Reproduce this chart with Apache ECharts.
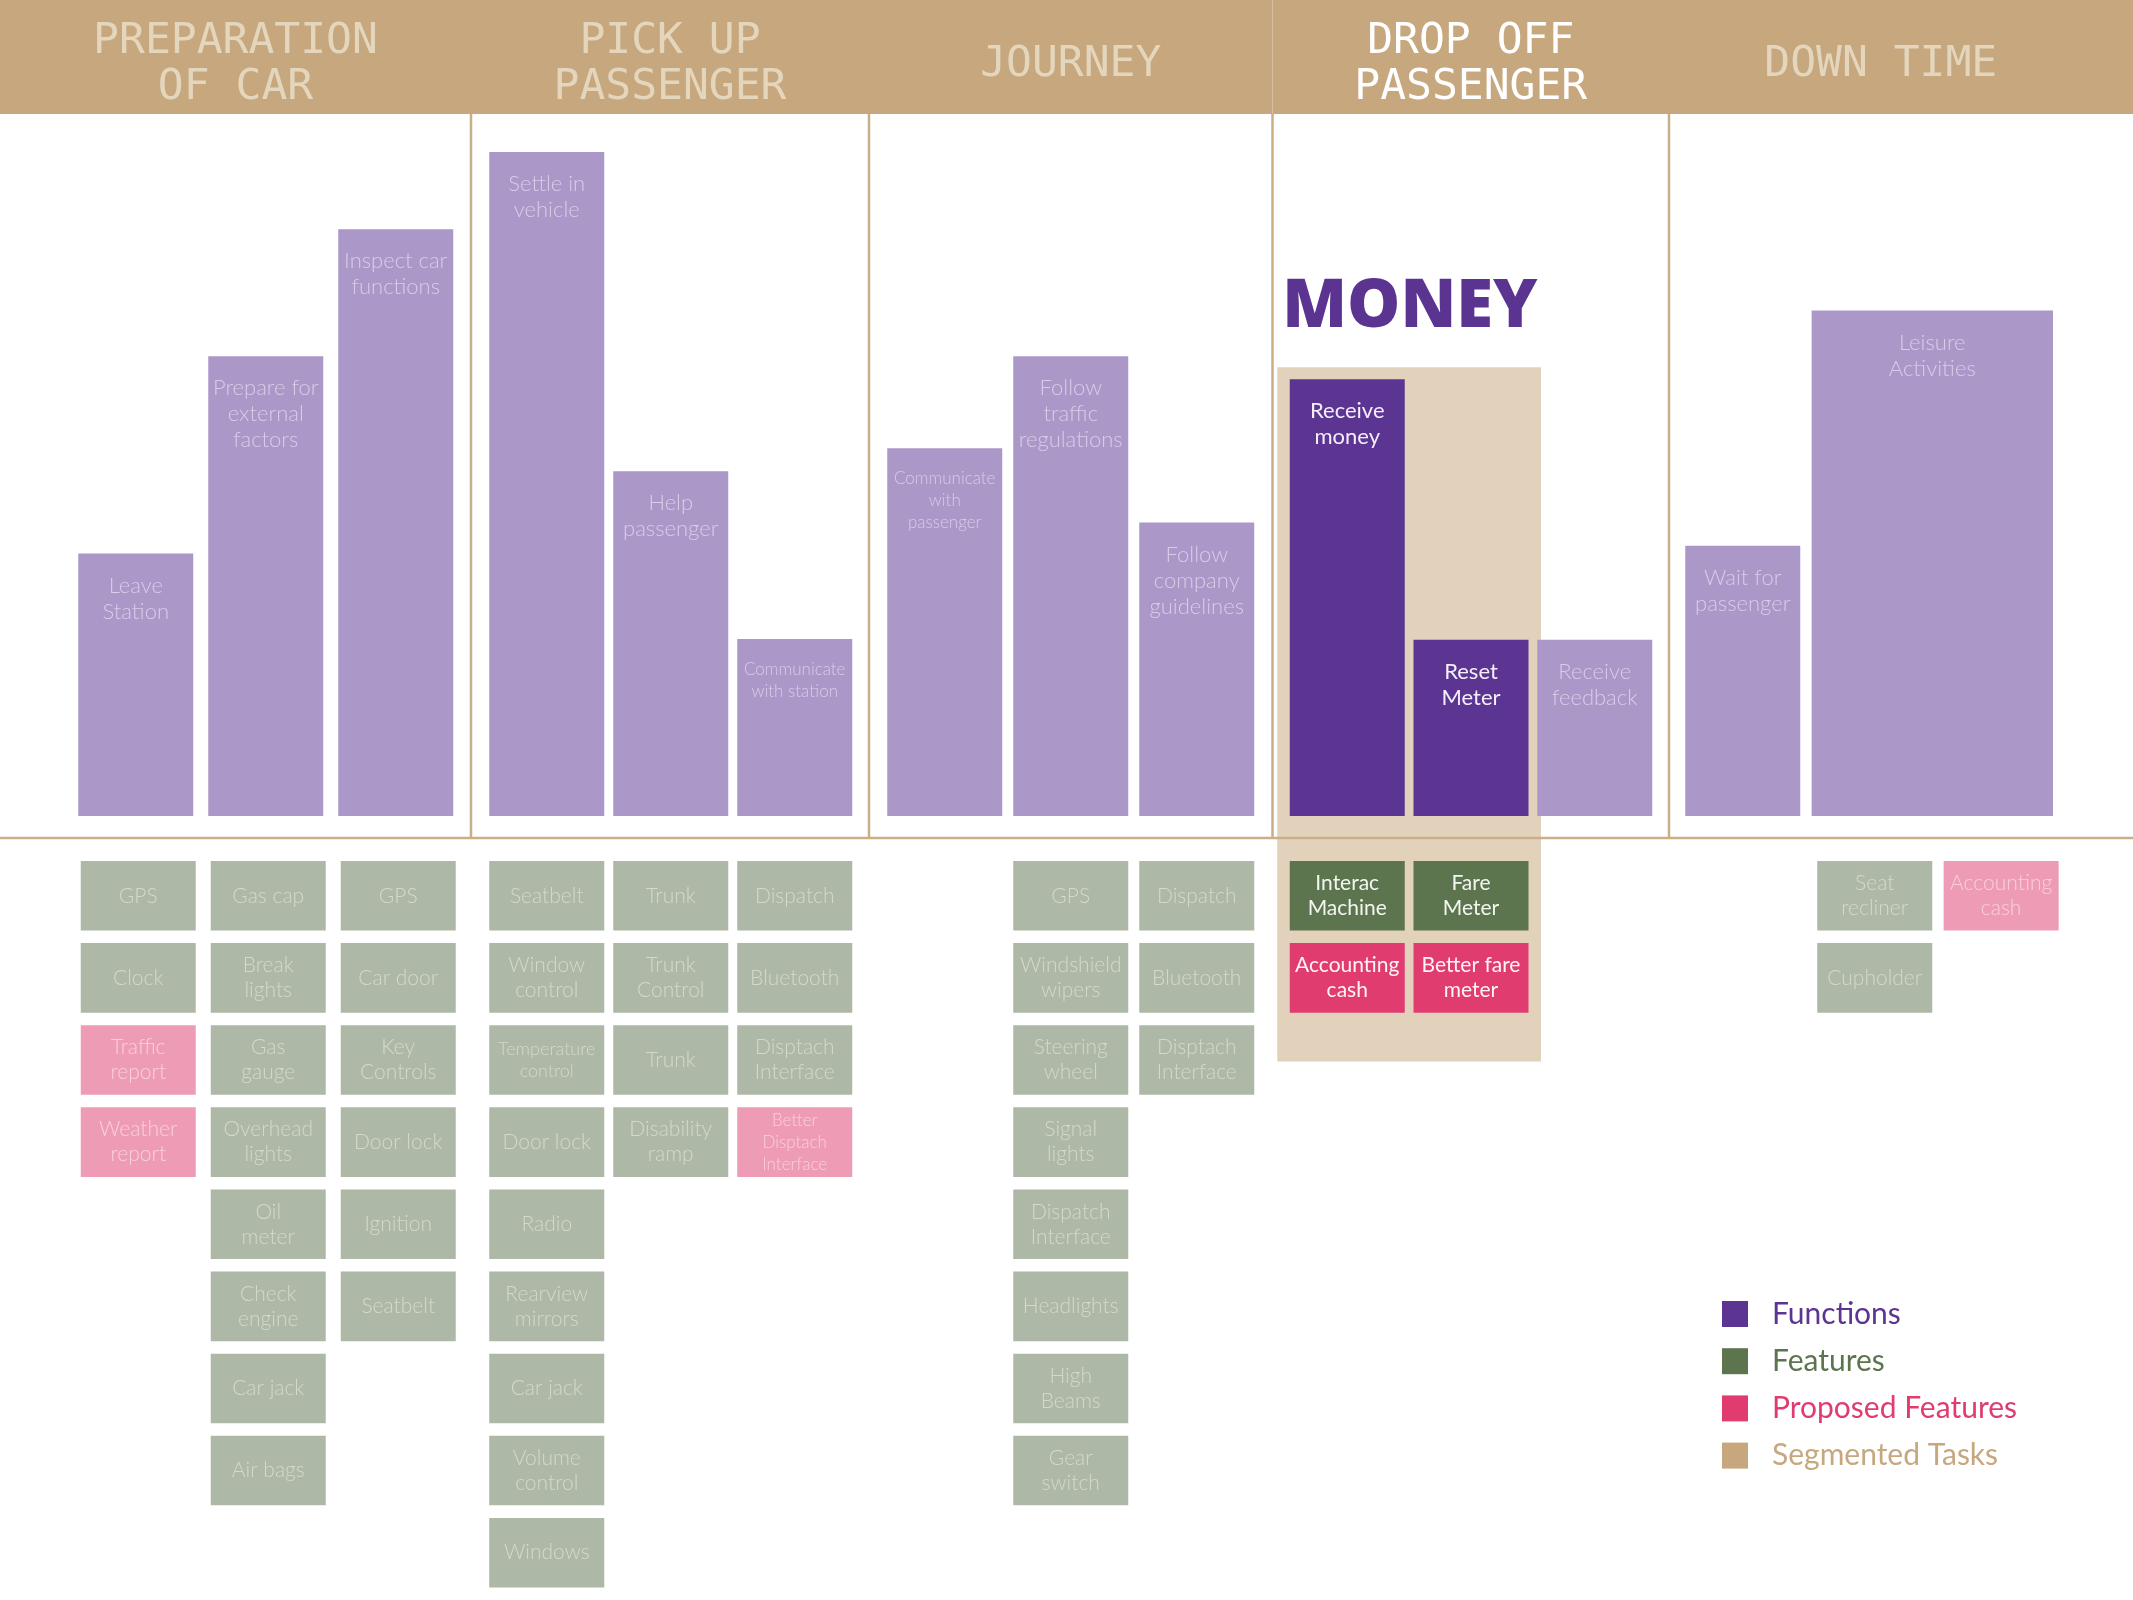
<!DOCTYPE html>
<html><head><meta charset="utf-8">
<script src="https://cdn.jsdelivr.net/npm/echarts@6/dist/echarts.min.js"></script>
<style>html,body{margin:0;padding:0;background:#fff}#c{width:2133px;height:1600px}</style>
</head><body><div id="c"></div>
<script>
// ================= DATA =================
const stageNames = ['PREPARATION\nOF CAR', 'PICK UP\nPASSENGER', 'JOURNEY', 'DROP OFF\nPASSENGER', 'DOWN TIME'];

const taskNames = ['Leave\nStation', 'Prepare for\nexternal\nfactors', 'Inspect car\nfunctions',
  'Settle in\nvehicle', 'Help\npassenger', 'Communicate\nwith station',
  'Communicate\nwith\npassenger', 'Follow\ntraffic\nregulations', 'Follow\ncompany\nguidelines',
  'Receive\nmoney', 'Reset\nMeter', 'Receive\nfeedback',
  'Wait for\npassenger', 'Leisure\nActivities'];
const taskStage  = [0, 0, 0, 1, 1, 1, 2, 2, 2, 3, 3, 3, 4, 4];
const taskSlot   = [0, 1, 2, 0, 1, 2, 0, 1, 2, 0, 1, 2, 0, 1];
const taskValues = [37.4, 65.5, 83.6, 94.6, 49.1, 25.2, 52.4, 65.5, 41.8, 62.2, 25.1, 25.1, 38.5, 72.0];

const featureColStage = [0, 0, 0, 1, 1, 1, 2, 2, 3, 3, 4, 4];
const featureColSlot  = [0, 1, 2, 0, 1, 2, 1, 2, 0, 1, 1, 2];
const featureLists = [
  ['GPS', 'Clock', 'Traffic\nreport', 'Weather\nreport'],
  ['Gas cap', 'Break\nlights', 'Gas\ngauge', 'Overhead\nlights', 'Oil\nmeter', 'Check\nengine', 'Car jack', 'Air bags'],
  ['GPS', 'Car door', 'Key\nControls', 'Door lock', 'Ignition', 'Seatbelt'],
  ['Seatbelt', 'Window\ncontrol', 'Temperature\ncontrol', 'Door lock', 'Radio', 'Rearview\nmirrors', 'Car jack', 'Volume\ncontrol', 'Windows'],
  ['Trunk', 'Trunk\nControl', 'Trunk', 'Disability\nramp'],
  ['Dispatch', 'Bluetooth', 'Disptach\nInterface', 'Better\nDisptach\nInterface'],
  ['GPS', 'Windshield\nwipers', 'Steering\nwheel', 'Signal\nlights', 'Dispatch\nInterface', 'Headlights', 'High\nBeams', 'Gear\nswitch'],
  ['Dispatch', 'Bluetooth', 'Disptach\nInterface'],
  ['Interac\nMachine', 'Accounting\ncash'],
  ['Fare\nMeter', 'Better fare\nmeter'],
  ['Seat\nrecliner', 'Cupholder'],
  ['Accounting\ncash']
];
// e = existing feature, p = proposed feature
const featureKinds = ['eepp', 'eeeeeeee', 'eeeeee', 'eeeeeeeee', 'eeee', 'eeep', 'eeeeeeee', 'eee', 'ep', 'ep', 'ee', 'p'];

const segmentStage = 3;
const segmentSlots = [0, 1];
const segmentTitle = 'MONEY';

const legendNames = ['Functions', 'Features', 'Proposed Features', 'Segmented Tasks'];

// ================= LAYOUT / STYLE =================
const W = 2133, H = 1600, UNIT = 125;            // px per slot unit
const L = { headerH: 114, barsH: 702, baseGap: 22, featTop: 861, rowPitch: 82.6, boxH: 70,
  markW: 0.92, yMax: 100, rows: 9 };
const stageEdgeX = [0, 3.768, 6.952, 10.18, 13.352, 16.74];
const slotStartX = [0.626, 3.914, 7.098, 10.318, 13.482];
const slotPitch  = [1.04, 0.992, 1.008, 0.99, 1.011];
const featShift  = [0.02, 0, 0, 0, 0.045];
const taskSpan   = [1, 1, 1, 1, 1, 1, 1, 1, 1, 1, 1, 1, 1, 2];
const C = {
  header: '#c7a77e', headerText: '#e4d6bd', headerActive: '#ffffff', rule: '#cbae86',
  task: '#ab98c9', taskText: '#d8cce8', fn: '#5c3492', fnText: '#f4effa',
  feat: '#aeb8a6', featText: '#d3d9cc', featHi: '#5c754f', featHiText: '#f3f6f0',
  prop: '#ee9cb6', propText: '#f8d0dd', propHi: '#e03c6f', propHiText: '#fff3f6',
  seg: '#e2d2bc', money: '#5b3391'
};
const BODY = "Lato, 'Open Sans', sans-serif";
const HEAD = "'DejaVu Sans Mono', monospace";

const measureCtx = document.createElement('canvas').getContext('2d');
function textW(lines, font) { measureCtx.font = font; return Math.max(...lines.map(s => measureCtx.measureText(s).width)); }

function slotX(st, sl) { return slotStartX[st] + sl * slotPitch[st]; }
function inSegment(st, sl) { return st === segmentStage && segmentSlots.includes(sl); }

// ---------- bars ----------
const barsLo = [], barsHi = [];
taskNames.forEach((n, i) => {
  const x0 = slotX(taskStage[i], taskSlot[i]);
  const x1 = x0 + L.markW + (taskSpan[i] - 1) * slotPitch[taskStage[i]];
  (inSegment(taskStage[i], taskSlot[i]) ? barsHi : barsLo).push([x0, taskValues[i], x1, i]);
});
function renderBar(fill, textFill, weight) {
  return function (params, api) {
    const x0 = api.value(0), v = api.value(1), x1 = api.value(2), i = api.value(3);
    const p0 = api.coord([x0, v]), p1 = api.coord([x1, 0]);
    const lines = taskNames[i].split('\n');
    let fs = 22, lh = 26;
    if (textW(lines, weight + ' 22px ' + BODY) > (p1[0] - p0[0]) + 2) { fs = 17; lh = 22; }
    return { type: 'group', children: [
      { type: 'rect', shape: { x: p0[0], y: p0[1], width: p1[0] - p0[0], height: p1[1] - p0[1] }, style: { fill } },
      { type: 'text', style: { text: taskNames[i], x: (p0[0] + p1[0]) / 2, y: p0[1] + 19, align: 'center', verticalAlign: 'top',
        fill: textFill, font: weight + ' ' + fs + 'px ' + BODY, lineHeight: lh } }
    ] };
  };
}

// ---------- features ----------
const fCur = [], fHi = [], pLo = [], pHi = [];
featureLists.forEach((list, c) => {
  const st = featureColStage[c], sl = featureColSlot[c];
  const x0 = slotX(st, sl) + featShift[st], hi = inSegment(st, sl);
  list.forEach((n, r) => {
    const k = featureKinds[c][r];
    const item = [x0, r, x0 + L.markW, c];
    if (k === 'p') (hi ? pHi : pLo).push(item); else (hi ? fHi : fCur).push(item);
  });
});
function renderFeature(fill, textFill, weight) {
  return function (params, api) {
    const x0 = api.value(0), r = api.value(1), x1 = api.value(2), c = api.value(3);
    const p0 = api.coord([x0, r]), p1 = api.coord([x1, r + L.boxH / L.rowPitch]);
    const name = featureLists[c][r];
    const lines = name.split('\n');
    let fs = 21, lh = 25;
    if (lines.length >= 3) { fs = 17; lh = 22; }
    else if (textW(lines, weight + ' 21px ' + BODY) > (p1[0] - p0[0]) - 3) { fs = 18; lh = 22; }
    return { type: 'group', children: [
      { type: 'rect', shape: { x: p0[0], y: p0[1], width: p1[0] - p0[0], height: p1[1] - p0[1] }, style: { fill } },
      { type: 'text', style: { text: name, x: (p0[0] + p1[0]) / 2, y: (p0[1] + p1[1]) / 2, align: 'center', verticalAlign: 'middle',
        fill: textFill, font: weight + ' ' + fs + 'px ' + BODY, lineHeight: lh } }
    ] };
  };
}

// ---------- stages (header band, dividers, baseline) ----------
function renderStage(params, api) {
  const i = api.value(0), cs = params.coordSys;
  const x0 = api.coord([stageEdgeX[i], 0])[0];
  const xe = api.coord([stageEdgeX[i + 1], 0])[0];
  const x1 = i === stageNames.length - 1 ? cs.x + cs.width : xe;
  const baseY = cs.y + cs.height + L.baseGap;
  const ch = [
    { type: 'rect', shape: { x: x0, y: 0, width: x1 - x0, height: cs.y }, style: { fill: C.header } },
    { type: 'text', style: { text: stageNames[i], x: (x0 + xe) / 2, y: cs.y / 2 + 8, align: 'center', verticalAlign: 'middle',
      fill: i === segmentStage ? C.headerActive : C.headerText, font: '43px ' + HEAD, lineHeight: 46 } }
  ];
  if (i > 0) ch.push({ type: 'line', shape: { x1: x0, y1: cs.y, x2: x0, y2: baseY }, style: { stroke: C.rule, lineWidth: 2.5 } });
  if (i === 0) ch.push({ type: 'line', shape: { x1: cs.x, y1: baseY, x2: cs.x + cs.width, y2: baseY }, style: { stroke: C.rule, lineWidth: 2.5 } });
  return { type: 'group', children: ch };
}

// ---------- segment highlight ----------
function renderSegment(params, api) {
  const st = api.value(0);
  const first = segmentSlots[0], last = segmentSlots[segmentSlots.length - 1];
  let vMax = 0, nRows = 0;
  taskNames.forEach((n, i) => { if (inSegment(taskStage[i], taskSlot[i])) vMax = Math.max(vMax, taskValues[i]); });
  featureLists.forEach((l, c) => { if (inSegment(featureColStage[c], featureColSlot[c])) nRows = Math.max(nRows, l.length); });
  const left = api.coord([slotX(st, first) - 0.1, 0])[0];
  const right = api.coord([slotX(st, last) + L.markW + 0.1, 0])[0];
  const top = api.coord([0, vMax])[1] - 12;
  const bottom = L.featTop + (nRows - 1) * L.rowPitch + L.boxH + 48;
  return { type: 'group', children: [
    { type: 'rect', shape: { x: left, y: top, width: right - left, height: bottom - top }, style: { fill: C.seg } },
    { type: 'text', style: { text: segmentTitle, x: left + 5, y: top - 59, align: 'left', verticalAlign: 'middle',
      fill: C.money, font: "800 67px 'Open Sans', sans-serif" } }
  ] };
}

const chart = echarts.init(document.getElementById('c'), null, { renderer: 'canvas', width: W, height: H });
const xAxisCfg = (g) => ({ type: 'value', gridIndex: g, min: 0, max: W / UNIT, show: false });
chart.setOption({
  backgroundColor: '#ffffff',
  animation: false,
  grid: [
    { left: 0, right: 0, top: L.headerH, height: L.barsH },
    { left: 0, right: 0, top: L.featTop, height: L.rows * L.rowPitch }
  ],
  xAxis: [xAxisCfg(0), xAxisCfg(1)],
  yAxis: [
    { type: 'value', gridIndex: 0, min: 0, max: L.yMax, show: false },
    { type: 'value', gridIndex: 1, min: 0, max: L.rows, inverse: true, show: false }
  ],
  legend: {
    orient: 'vertical', left: 1722, top: 1299, padding: 0, icon: 'rect', itemWidth: 26, itemHeight: 26, itemGap: 17.2,
    selectedMode: false,
    textStyle: { fontFamily: BODY, fontSize: 30, lineHeight: 26, padding: [0, 0, 0, 19] },
    data: [
      { name: legendNames[0], textStyle: { color: C.fn } },
      { name: legendNames[1], textStyle: { color: C.featHi } },
      { name: legendNames[2], textStyle: { color: C.propHi } },
      { name: legendNames[3], textStyle: { color: C.header } }
    ]
  },
  series: [
    { name: legendNames[3], type: 'custom', xAxisIndex: 0, yAxisIndex: 0, z: 1, itemStyle: { color: C.header },
      data: [[segmentStage]], renderItem: renderSegment },
    { name: 'Tasks', type: 'custom', xAxisIndex: 0, yAxisIndex: 0, z: 2, itemStyle: { color: C.task },
      data: barsLo, renderItem: renderBar(C.task, C.taskText, 300) },
    { name: legendNames[0], type: 'custom', xAxisIndex: 0, yAxisIndex: 0, z: 2, itemStyle: { color: C.fn },
      data: barsHi, renderItem: renderBar(C.fn, C.fnText, 400) },
    { name: 'Current features', type: 'custom', xAxisIndex: 1, yAxisIndex: 1, z: 2, itemStyle: { color: C.feat },
      data: fCur, renderItem: renderFeature(C.feat, C.featText, 300) },
    { name: legendNames[1], type: 'custom', xAxisIndex: 1, yAxisIndex: 1, z: 2, itemStyle: { color: C.featHi },
      data: fHi, renderItem: renderFeature(C.featHi, C.featHiText, 400) },
    { name: 'Proposed ideas', type: 'custom', xAxisIndex: 1, yAxisIndex: 1, z: 2, itemStyle: { color: C.prop },
      data: pLo, renderItem: renderFeature(C.prop, C.propText, 300) },
    { name: legendNames[2], type: 'custom', xAxisIndex: 1, yAxisIndex: 1, z: 2, itemStyle: { color: C.propHi },
      data: pHi, renderItem: renderFeature(C.propHi, C.propHiText, 400) },
    { name: 'Stages', type: 'custom', xAxisIndex: 0, yAxisIndex: 0, z: 3, itemStyle: { color: C.header },
      data: stageNames.map((s, i) => [i]), renderItem: renderStage }
  ]
});
</script></body></html>
